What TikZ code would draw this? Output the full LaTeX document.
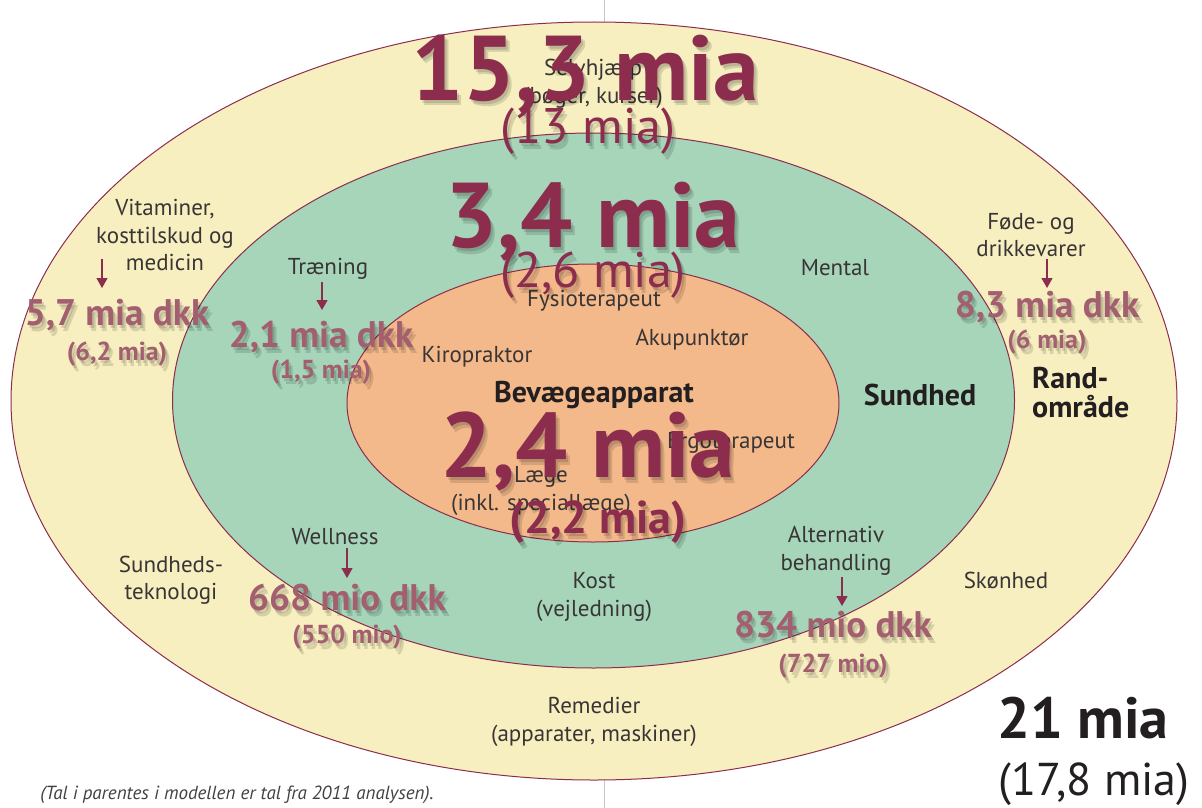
\documentclass[tikz,border=0pt]{standalone}
\usepackage{fontspec}
\setmainfont{PT Sans}
\usetikzlibrary{arrows.meta}

\definecolor{cream}{HTML}{F8EFC0}
\definecolor{mint}{HTML}{A6D5B9}
\definecolor{peach}{HTML}{F4B98A}
\definecolor{wine}{HTML}{8C2D4E}
\definecolor{rose}{HTML}{A35F6F}
\definecolor{ink}{HTML}{231F20}
\newcommand\fsz[1]{\fontsize{#1}{1.2\dimexpr#1pt\relax}\selectfont}

\tikzset{
  ring/.style={draw=wine, line width=1pt},
  lbl/.style={font=\fontsize{23}{27.5}\selectfont, text=ink!90, align=center, inner sep=0pt},
  area/.style={font=\bfseries\fontsize{30}{29}\selectfont, text=ink, align=left, inner sep=0pt},
  total/.style={font=\bfseries\fsz{92}, text=wine, anchor=base, inner sep=0pt},
  totalp/.style={font=\fsz{50}, text=wine, anchor=base, inner sep=0pt},
  totalpb/.style={font=\bfseries\fsz{46}, text=wine, anchor=base, inner sep=0pt},
  part/.style={font=\bfseries\fsz{37}, text=rose, anchor=base, inner sep=0pt},
  partp/.style={font=\bfseries\fsz{26}, text=rose, anchor=base, inner sep=0pt},
  ghost/.style={text=black, opacity=0.13},
  arr/.style={draw=wine, line width=1.2pt, -{Triangle[width=11pt,length=10pt]}},
}

\begin{document}
\begin{tikzpicture}[x=1pt, y=-1pt]
  \useasboundingbox[fill=white] (0,0) rectangle (1202,808);
  % page fold
  \draw[black!22, line width=0.8pt] (604,0) -- (604,808);

  % rings
  \draw[ring, fill=cream] (594,401) ellipse[x radius=583pt, y radius=379pt];
  \draw[ring, fill=mint] (593.5,400.5) ellipse[x radius=421pt, y radius=267.5pt];
  \draw[ring, fill=peach] (593,403) ellipse[x radius=246pt, y radius=139pt];

  % labels
  \node[lbl] (selv) at (593,84) {Selvhjælp\\(bøger, kurser)};
  \node[lbl] (vit) at (165,235) {Vitaminer,\\kosttilskud og\\medicin};
  \node[lbl] (traen) at (328,269) {Træning};
  \node[lbl] (mental) at (835,268) {Mental};
  \node[lbl] (fode) at (1031,235) {Føde- og\\drikkevarer};
  \node[lbl] (fysio) at (594,301) {Fysioterapeut};
  \node[lbl] (akup) at (692,340) {Akupunktør};
  \node[lbl] (kiro) at (477,357) {Kiropraktor};
  \node[lbl] (ergo) at (731,443) {Ergoterapeut};
  \node[lbl] (laege) at (541,491) {Læge\\(inkl. speciallæge)};
  \node[lbl] (well) at (335,537) {Wellness};
  \node[lbl] (tekno) at (171,580) {Sundheds-\\teknologi};
  \node[lbl] (kost) at (594,597) {Kost\\(vejledning)};
  \node[lbl] (alt) at (836,551) {Alternativ\\behandling};
  \node[lbl] (skon) at (1006,580) {Skønhed};
  \node[lbl] (rem) at (594,722) {Remedier\\(apparater, maskiner)};

  \node[area] (bev) at (594,395) {Bevægeapparat};
  \node[area] (sund) at (920,395) {Sundhed};
  \node[area, anchor=west] (rand) at (1032,393) {Rand-\\område};

  % arrows
  \coordinate (vitA) at (102,259);   \coordinate (vitB) at (102,288);
  \coordinate (traenA) at (322,282); \coordinate (traenB) at (322,310);
  \coordinate (fodeA) at (1047,259); \coordinate (fodeB) at (1047,288);
  \coordinate (wellA) at (347,548);  \coordinate (wellB) at (347,578);
  \coordinate (altA) at (842,577);   \coordinate (altB) at (842,606);
  \foreach \a in {vit, traen, fode, well, alt}
    \draw[arr] (\a A) -- (\a B);

  % amounts, with a soft shadow
  \foreach \nm/\px/\py/\sty/\txt in {
      v15/585/100/total/{15,3 mia}, v13/588/143/totalp/{(13 mia)},
      v34/593/247/total/{3,4 mia}, v26/593/287/totalp/{(2,6 mia)},
      v24/588/477/total/{2,4 mia}, v22/598/533/totalpb/{(2,2 mia)},
      v57/117/325/part/{5,7 mia dkk}, v62/117/360/partp/{(6,2 mia)},
      v21/321/347/part/{2,1 mia dkk}, v15p/321/378/partp/{(1,5 mia)},
      v83/1047/317/part/{8,3 mia dkk}, v6/1047/348/partp/{(6 mia)},
      v668/347/610/part/{668 mio dkk}, v550/347/643/partp/{(550 mio)},
      v834/833/637/part/{834 mio dkk}, v727/833/672/partp/{(727 mio)}}{
    \node[\sty, ghost] (\nm-sh) at (\px+4,\py+6) {\txt};
    \node[\sty, ghost] (\nm-sh2) at (\px+2,\py+3) {\txt};
    \node[\sty] (\nm) at (\px,\py) {\txt};
  }

  \node[font=\bfseries\fsz{58}, text=ink, anchor=base, inner sep=0pt] (sum) at (1083,738) {21 mia};
  \node[font=\fsz{46}, text=ink, anchor=base, inner sep=0pt] (sumold) at (1094,795) {(17,8 mia)};
  \node[font=\itshape\fsz{19}, text=ink!85, inner sep=0pt] (note) at (237,795)
    {(Tal i parentes i modellen er tal fra 2011 analysen).};
\end{tikzpicture}
\end{document}
